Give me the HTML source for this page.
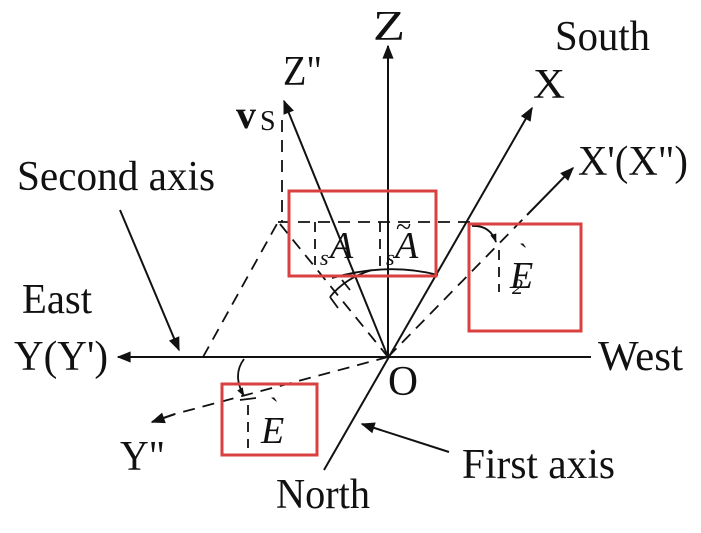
<!DOCTYPE html>
<html><head><meta charset="utf-8"><style>
html,body{margin:0;padding:0;background:#fff;}
svg{display:block;}
text{font-family:"Liberation Serif",serif;fill:#111;}
</style></head><body>
<svg width="701" height="533" viewBox="0 0 701 533" xmlns="http://www.w3.org/2000/svg">
<defs>
<marker id="ar" viewBox="0 0 10 10" refX="9" refY="5" markerWidth="12" markerHeight="9" orient="auto" markerUnits="userSpaceOnUse">
<path d="M0,1.5 L10,5 L0,8.5 Z" fill="#111"/></marker>
<marker id="ar2" viewBox="0 0 10 10" refX="9" refY="5" markerWidth="24" markerHeight="14" orient="auto" markerUnits="userSpaceOnUse">
<path d="M0,1 L10,5 L0,9 Z" fill="#111"/></marker>
</defs>
<g stroke="#111" stroke-width="2" fill="none">
<line x1="388" y1="357" x2="388" y2="46" marker-end="url(#ar2)"/>
<line x1="388" y1="357" x2="284" y2="101" marker-end="url(#ar2)"/>
<line x1="324" y1="470" x2="532" y2="108" marker-end="url(#ar2)"/>
<line x1="591" y1="357" x2="118" y2="357" marker-end="url(#ar2)"/>
<line x1="527" y1="215" x2="573" y2="168" marker-end="url(#ar2)"/>
<line x1="449" y1="452" x2="362" y2="424" marker-end="url(#ar2)"/>
<line x1="120" y1="210" x2="179" y2="350" marker-end="url(#ar2)"/>
</g>
<g stroke="#111" stroke-width="1.8" fill="none" stroke-dasharray="12,8">
<line x1="388" y1="357" x2="527" y2="215"/>
<line x1="388" y1="357" x2="175" y2="414"/>
<line x1="203" y1="357" x2="278" y2="222"/>
<line x1="278" y1="222" x2="470" y2="222"/>
<line x1="282" y1="120" x2="282" y2="222"/>
<line x1="280" y1="224" x2="388" y2="357"/>
<line x1="315" y1="222" x2="315" y2="265" stroke-dasharray="10,7"/>
<line x1="380" y1="222" x2="380" y2="270" stroke-dasharray="10,7"/>
<line x1="499" y1="250" x2="499" y2="292" stroke-dasharray="10,7"/>
<line x1="248" y1="405" x2="248" y2="448" stroke-dasharray="10,7"/>
</g>
<line x1="175" y1="414" x2="152" y2="422" stroke="#111" stroke-width="2" marker-end="url(#ar2)"/>
<g stroke="#111" stroke-width="1.8" fill="none">
<path d="M332,278 Q388,262 438,275"/>
<path d="M330,297 Q345,278 372,270"/>
<path d="M330,297 L338,308 M342,280 L350,290"/>
<path d="M472,226 Q490,225 496,242" marker-end="url(#ar)"/>
<path d="M244,359 Q232,375 244,396" marker-end="url(#ar)"/>
<line x1="240" y1="400" x2="256" y2="398"/>
</g>
<g fill="none" stroke="#d9403f" stroke-width="3">
<rect x="289" y="191" width="147" height="85"/>
<rect x="469" y="224" width="112" height="107"/>
<rect x="222" y="384" width="95" height="71"/>
</g>
<g font-size="42" lengthAdjust="spacingAndGlyphs">
<text x="373" y="40" textLength="32" lengthAdjust="spacingAndGlyphs">Z</text>
<text x="283" y="85" textLength="39" lengthAdjust="spacingAndGlyphs">Z"</text>
<text x="555" y="50" textLength="95" lengthAdjust="spacingAndGlyphs">South</text>
<text x="533" y="98" textLength="32" lengthAdjust="spacingAndGlyphs">X</text>
<text x="578" y="175" textLength="110" lengthAdjust="spacingAndGlyphs">X'(X")</text>
<text x="17" y="190" textLength="198" lengthAdjust="spacingAndGlyphs">Second axis</text>
<text x="22" y="313" textLength="70" lengthAdjust="spacingAndGlyphs">East</text>
<text x="14" y="370" textLength="94" lengthAdjust="spacingAndGlyphs">Y(Y')</text>
<text x="598" y="370" textLength="85" lengthAdjust="spacingAndGlyphs">West</text>
<text x="388" y="395" textLength="30" lengthAdjust="spacingAndGlyphs">O</text>
<text x="120" y="470" textLength="45" lengthAdjust="spacingAndGlyphs">Y"</text>
<text x="462" y="478" textLength="153" lengthAdjust="spacingAndGlyphs">First axis</text>
<text x="276" y="508" textLength="94" lengthAdjust="spacingAndGlyphs">North</text>
</g>
<text x="236" y="128" font-size="40" font-weight="bold">v</text>
<text x="260" y="130" font-size="28">S</text>
<g font-style="italic" font-size="38">
<text x="330" y="258">A</text>
<text x="395" y="258">A</text>
<text x="396" y="236" font-style="normal" font-size="28">~</text>
<text x="510" y="288">E</text>
<text x="519" y="262" font-style="normal" font-size="26">`</text>
<text x="261" y="443">E</text>
<text x="270" y="416" font-style="normal" font-size="26">`</text>
</g>
<g font-style="italic" font-size="22">
<text x="320" y="265">s</text>
<text x="386" y="265">s</text>
<text x="512" y="294">2</text>
</g>
</svg>
</body></html>
